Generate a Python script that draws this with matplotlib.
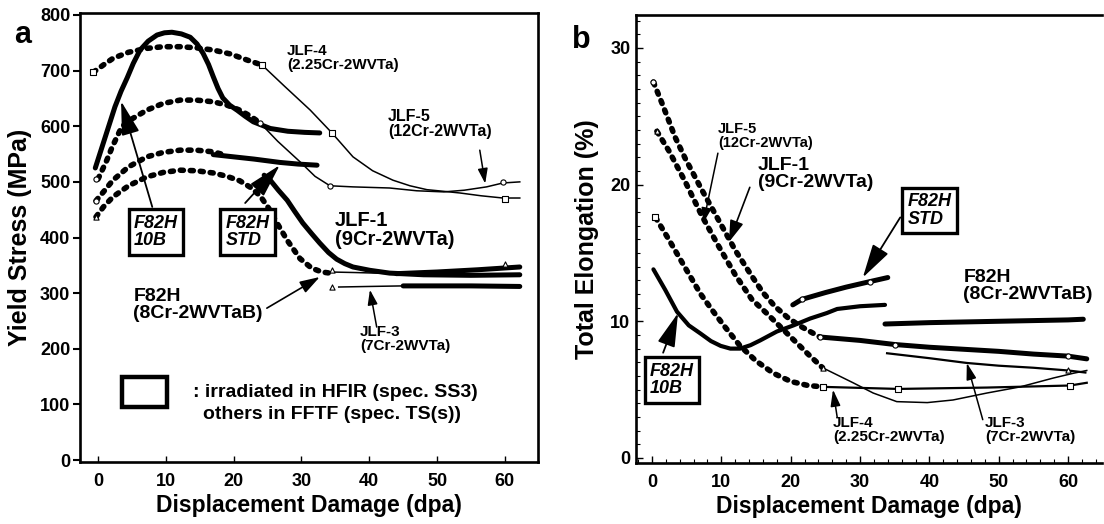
import numpy as np
import matplotlib
matplotlib.use('Agg')
import matplotlib.pyplot as plt
from matplotlib.patches import Rectangle
from matplotlib.ticker import MultipleLocator

plt.rcParams['font.family'] = ['Liberation Sans', 'DejaVu Sans']
plt.rcParams['font.weight'] = 'bold'

# ---------------- panel a : yield stress (MPa) ----------------
a_jlf4_dot_x = [-0.7, 1.0, 2.2, 4.5, 7.2, 9.6, 12.1, 14.5, 17.0, 19.5, 22.0, 24.2]
a_jlf4_dot_y = [697, 712, 722, 733, 740, 743, 743, 741, 737, 730, 719, 710]
a_jlf4_x = [24.2, 27.5, 31.3, 34.5, 37.6, 40.5, 43.5, 46.0, 48.5, 51.0, 53.4, 56.5, 59.7, 62.2]
a_jlf4_y = [710, 672, 629, 588, 545, 520, 503, 493, 486, 483, 480, 475, 471, 471]

a_jlf5_dot_x = [0.0, 1.3, 2.1, 2.8, 3.5, 4.7, 7.2, 9.6, 12.1, 14.5, 17.0, 19.0, 20.9, 22.5, 23.9]
a_jlf5_dot_y = [505, 539, 563, 581, 599, 611, 629, 641, 647, 647, 644, 638, 629, 618, 606]
a_jlf5_x = [23.9, 26.5, 29.8, 32.0, 34.2, 37.6, 43.0, 47.0, 51.0, 54.0, 57.3, 59.7, 62.2]
a_jlf5_y = [606, 573, 536, 510, 493, 491, 489, 484, 482, 485, 491, 498, 500]

a_dot3_x = [-0.3, 0.8, 2.2, 4.5, 7.2, 9.6, 12.1, 14.5, 17.0, 18.5]
a_dot3_y = [466, 482, 503, 527, 545, 553, 557, 557, 554, 549]

a_std_x = [17.0, 20.0, 23.0, 26.8, 29.5, 32.3]
a_std_y = [549, 545, 541, 535, 532, 530]

a_f82h_dot_x = [-0.3, 0.8, 2.2, 4.5, 7.2, 9.6, 12.1, 14.5, 17.0, 19.0, 20.9, 22.5,
                23.9, 25.2, 26.4, 27.9, 29.8, 31.5, 33.0, 34.2]
a_f82h_dot_y = [437, 455, 473, 493, 509, 517, 521, 520, 516, 510, 502, 490,
                475, 452, 426, 395, 362, 345, 338, 336]
a_f82h_x = [34.2, 38.0, 44.0, 50.0, 56.0, 62.2]
a_f82h_y = [338, 337, 335, 338, 342, 347]

a_jlf1_x = [24.5, 25.4, 26.6, 27.9, 29.0, 30.2, 31.5, 32.7, 34.0, 35.2, 36.4, 37.6, 40.1, 43.0, 48.0, 55.0, 62.2]
a_jlf1_y = [512, 503, 485, 467, 447, 426, 407, 390, 373, 361, 353, 347, 341, 336, 333, 332, 333]

a_jlf3_x = [35.5, 40.0, 45.0, 50.0, 55.0, 62.2]
a_jlf3_y = [311, 312, 313, 313, 313, 312]

a_10b_x = [-0.4, 2.5, 3.4, 4.3, 5.2, 6.2, 7.4, 8.7, 9.8, 10.9, 12.3, 13.6, 14.6, 15.5, 16.3,
           17.0, 17.7, 18.4, 19.4, 20.5, 21.7, 22.9, 25.4, 28.0, 30.5, 32.7]
a_10b_y = [525, 635, 663, 687, 713, 737, 753, 764, 768, 769, 766, 760, 748, 731, 711,
           689, 668, 651, 638, 629, 618, 608, 596, 591, 589, 588]

a_sq_x = [-0.7, 24.2, 34.5, 60.0]
a_sq_y = [697, 710, 588, 470]
a_circ_x = [-0.3, -0.3, 23.9, 34.2, 59.7]
a_circ_y = [505, 466, 606, 493, 500]
a_tri_x = [-0.3, 34.5, 34.5, 60.0]
a_tri_y = [437, 342, 311, 352]

# ---------------- panel b : total elongation (%) ----------------
b_jlf1_dot_x = [0.2, 1.4, 2.4, 3.3, 4.8, 7.2, 9.6, 12.0, 14.4, 16.0, 17.7, 19.5, 21.2, 24.2]
b_jlf1_dot_y = [27.5, 26.0, 24.7, 23.5, 21.9, 19.6, 17.4, 15.2, 13.3, 12.1, 11.1, 10.3, 9.7, 8.85]
b_jlf1_x = [24.2, 30.0, 35.0, 40.0, 45.0, 50.0, 55.0, 60.0, 62.7]
b_jlf1_y = [8.85, 8.6, 8.3, 8.1, 7.95, 7.8, 7.6, 7.45, 7.25]

b_jlf5_dot_x = [0.7, 2.4, 4.8, 7.2, 9.6, 12.0, 14.4, 16.5, 18.5, 20.5, 22.5, 24.6]
b_jlf5_dot_y = [23.9, 22.5, 20.2, 17.7, 15.5, 13.4, 11.6, 10.6, 9.6, 8.6, 7.6, 6.6]
b_jlf5_x = [24.6, 27.0, 29.0, 31.9, 35.3, 39.7, 43.4, 48.3, 53.1, 57.9, 60.8, 62.7]
b_jlf5_y = [6.6, 6.0, 5.5, 4.75, 4.12, 4.05, 4.24, 4.75, 5.2, 5.85, 6.2, 6.4]

b_jlf4_dot_x = [0.5, 2.4, 4.8, 7.0, 8.7, 10.5, 12.7, 15.0, 17.5, 20.0, 22.5, 24.7]
b_jlf4_dot_y = [17.6, 16.0, 13.9, 12.0, 10.8, 9.6, 8.2, 7.1, 6.2, 5.6, 5.3, 5.2]
b_jlf4_x = [24.7, 35.5, 48.3, 60.3, 62.7]
b_jlf4_y = [5.2, 5.05, 5.15, 5.3, 5.5]

b_10b_x = [0.2, 1.9, 3.6, 5.3, 7.0, 8.5, 9.9, 11.3, 12.7, 14.2, 15.6, 18.0, 20.4, 22.8, 25.2, 26.7, 30.0, 33.6]
b_10b_y = [13.8, 12.3, 10.7, 9.7, 9.1, 8.55, 8.2, 8.0, 8.0, 8.25, 8.6, 9.25, 9.7, 10.2, 10.6, 10.9, 11.1, 11.2]

b_std_x = [20.3, 21.6, 25.0, 28.0, 31.4, 34.0]
b_std_y = [11.2, 11.6, 12.1, 12.5, 12.9, 13.2]
b_f82h_x = [33.6, 40.0, 50.0, 60.0, 62.2]
b_f82h_y = [9.8, 9.9, 10.0, 10.1, 10.15]
b_jlf3_x = [33.9, 40.0, 45.4, 50.0, 55.0, 60.0, 62.5]
b_jlf3_y = [7.66, 7.3, 6.95, 6.75, 6.6, 6.4, 6.25]

b_sq_x = [0.5, 24.7, 35.5, 60.3]
b_sq_y = [17.6, 5.2, 5.05, 5.3]
b_circ_x = [0.2, 24.2, 35.0, 60.0, 21.6, 31.4]
b_circ_y = [27.5, 8.85, 8.3, 7.45, 11.6, 12.9]
b_tri_x = [0.7, 24.6, 60.0]
b_tri_y = [23.9, 6.6, 6.4]

x_ticks = [0, 10, 20, 30, 40, 50, 60]
a_y_ticks = [0, 100, 200, 300, 400, 500, 600, 700, 800]
b_y_ticks = [0, 10, 20, 30]

DOT = dict(color='k', lw=4.0, linestyle=(0, (0.55, 1.25)), dash_capstyle='round')
THICK = dict(color='k', lw=3.6, solid_capstyle='round')
THIN = dict(color='k', lw=1.1)
MK = dict(facecolor='white', edgecolor='k', s=14, linewidths=0.8, zorder=5)


def arrow(ax, tail, tip, scale=14, lw=1.2, hl=1.0, hw=0.35):
    ax.annotate('', xy=tip, xytext=tail,
                arrowprops=dict(arrowstyle=f'-|>,head_length={hl},head_width={hw}',
                                mutation_scale=scale, lw=lw, color='k',
                                shrinkA=0, shrinkB=0))


def label_box(ax, x, y, txt):
    ax.text(x, y, txt, ha='left', va='center', fontsize=13, style='italic',
            weight='bold', linespacing=1.05, zorder=6,
            bbox=dict(boxstyle='square,pad=0.3', fc='white', ec='k', lw=2.4))


fig = plt.figure(figsize=(11.04, 5.24), dpi=100)
fig.patch.set_facecolor('white')

# ======================= panel a =======================
ax = fig.add_axes([0.0725, 0.1183, 0.4149, 0.8569])
ax.plot(a_jlf4_dot_x, a_jlf4_dot_y, **DOT)
ax.plot(a_jlf4_x, a_jlf4_y, **THIN)
ax.plot(a_jlf5_dot_x, a_jlf5_dot_y, **DOT)
ax.plot(a_jlf5_x, a_jlf5_y, **THIN)
ax.plot(a_dot3_x, a_dot3_y, **DOT)
ax.plot(a_f82h_dot_x, a_f82h_dot_y, **DOT)
ax.plot(a_f82h_x, a_f82h_y, **THIN)
ax.plot(a_f82h_x[2:], a_f82h_y[2:], **THICK)
ax.plot(a_jlf3_x, a_jlf3_y, **THIN)
ax.plot(a_jlf3_x[2:], a_jlf3_y[2:], **THICK)
ax.plot(a_std_x, a_std_y, **THICK)
ax.plot(a_jlf1_x, a_jlf1_y, **THICK)
ax.plot(a_10b_x, a_10b_y, **THICK)
ax.scatter(a_sq_x, a_sq_y, marker='s', **MK)
ax.scatter(a_circ_x, a_circ_y, marker='o', **MK)
ax.scatter(a_tri_x, a_tri_y, marker='^', **MK)

ax.set_xlim(-2.65, 64.9)
ax.set_ylim(-3.6, 803.6)
ax.set_xticks(x_ticks)
ax.set_yticks(a_y_ticks)
ax.tick_params(axis='x', direction='in', length=4, width=1, labelsize=13, pad=8)
ax.tick_params(axis='y', direction='out', length=5, width=1.5, labelsize=13, pad=2)
for lab in ax.get_xticklabels() + ax.get_yticklabels():
    lab.set_fontweight('bold')
for sp in ax.spines.values():
    sp.set_linewidth(1.9)
ax.set_xlabel('Displacement Damage (dpa)', fontsize=16.5, weight='bold', labelpad=3)
ax.set_ylabel('Yield Stress (MPa)', fontsize=18, weight='bold', labelpad=6)

ax.text(27.9, 748, 'JLF-4\n(2.25Cr-2WVTa)', fontsize=11, weight='bold', va='top', linespacing=1.0)
ax.text(42.8, 631, 'JLF-5\n(12Cr-2WVTa)', fontsize=11.5, weight='bold', va='top', linespacing=1.0)
ax.text(34.9, 448, 'JLF-1\n(9Cr-2WVTa)', fontsize=14.5, weight='bold', va='top', linespacing=1.0)
ax.text(5.2, 310, 'F82H\n(8Cr-2WVTaB)', fontsize=14, weight='bold', va='top', linespacing=1.0)
ax.text(38.6, 243, 'JLF-3\n(7Cr-2WVTa)', fontsize=11, weight='bold', va='top', linespacing=1.0)
label_box(ax, 5.3, 410, 'F82H\n10B')
label_box(ax, 18.8, 410, 'F82H\nSTD')

arrow(ax, (8.0, 455), (3.4, 645), scale=14, lw=1.3, hl=1.5, hw=0.4)
arrow(ax, (21.7, 462), (26.8, 530), scale=14, lw=1.3, hl=1.5, hw=0.4)
arrow(ax, (56.3, 557), (57.1, 497), scale=10, lw=1.1, hl=0.9, hw=0.3)
arrow(ax, (24.9, 273), (32.7, 329), scale=11, lw=1.2, hl=1.1, hw=0.35)
arrow(ax, (41.1, 239), (40.1, 306), scale=10, lw=1.1, hl=0.9, hw=0.3)

ax.add_patch(Rectangle((0.0917, 0.1225), 0.098, 0.0665, transform=ax.transAxes,
                       fill=False, ec='k', lw=3.2))
ax.text(14.0, 122, ': irradiated in HFIR (spec. SS3)', fontsize=14, weight='bold', va='center')
ax.text(15.5, 81, 'others in FFTF (spec. TS(s))', fontsize=14, weight='bold', va='center')
fig.text(0.013, 0.918, 'a', fontsize=22, weight='bold')

# ======================= panel b =======================
bx = fig.add_axes([0.5761, 0.1164, 0.4221, 0.855])
bx.plot(b_jlf1_dot_x, b_jlf1_dot_y, **DOT)
bx.plot(b_jlf5_dot_x, b_jlf5_dot_y, **DOT)
bx.plot(b_jlf4_dot_x, b_jlf4_dot_y, **DOT)
bx.plot(b_jlf5_x, b_jlf5_y, **THIN)
bx.plot(b_jlf4_x, b_jlf4_y, color='k', lw=1.6)
bx.plot(b_jlf3_x, b_jlf3_y, color='k', lw=1.6)
bx.plot(b_jlf1_x, b_jlf1_y, **THICK)
bx.plot(b_f82h_x, b_f82h_y, **THICK)
bx.plot(b_std_x, b_std_y, **THICK)
bx.plot(b_10b_x, b_10b_y, color='k', lw=3.0, solid_capstyle='round')
bx.scatter(b_sq_x, b_sq_y, marker='s', **MK)
bx.scatter(b_circ_x, b_circ_y, marker='o', **MK)
bx.scatter(b_tri_x, b_tri_y, marker='^', **MK)

bx.set_xlim(-2.31, 64.9)
bx.set_ylim(-0.37, 32.41)
bx.set_xticks(x_ticks)
bx.set_yticks(b_y_ticks)
bx.xaxis.set_minor_locator(MultipleLocator(2))
bx.yaxis.set_minor_locator(MultipleLocator(1))
bx.tick_params(axis='both', which='major', direction='in', length=5, width=1, labelsize=13)
bx.tick_params(axis='both', which='minor', direction='in', length=3, width=0.8)
bx.tick_params(axis='x', pad=8)
bx.tick_params(axis='y', pad=4)
for lab in bx.get_xticklabels() + bx.get_yticklabels():
    lab.set_fontweight('bold')
for sp in bx.spines.values():
    sp.set_linewidth(1.9)
bx.spines['right'].set_visible(False)
bx.set_xlabel('Displacement Damage (dpa)', fontsize=16.5, weight='bold', labelpad=3)
bx.set_ylabel('Total Elongation (%)', fontsize=18, weight='bold', labelpad=8)

bx.text(9.5, 24.6, 'JLF-5\n(12Cr-2WVTa)', fontsize=10.5, weight='bold', va='top', linespacing=1.0)
bx.text(15.3, 22.0, 'JLF-1\n(9Cr-2WVTa)', fontsize=14, weight='bold', va='top', linespacing=1.0)
bx.text(44.9, 13.8, 'F82H\n(8Cr-2WVTaB)', fontsize=14, weight='bold', va='top', linespacing=1.0)
bx.text(26.1, 3.1, 'JLF-4\n(2.25Cr-2WVTa)', fontsize=11, weight='bold', va='top', linespacing=1.0)
bx.text(48.0, 3.1, 'JLF-3\n(7Cr-2WVTa)', fontsize=11, weight='bold', va='top', linespacing=1.0)
label_box(bx, 36.9, 18.1, 'F82H\nSTD')
label_box(bx, -0.3, 5.7, 'F82H\n10B')

arrow(bx, (9.5, 22.3), (7.4, 17.2), scale=10, lw=1.1, hl=0.9, hw=0.3)
arrow(bx, (14.1, 19.8), (11.1, 15.8), scale=12, lw=1.2, hl=1.1, hw=0.35)
arrow(bx, (35.8, 17.6), (30.4, 13.2), scale=14, lw=1.3, hl=1.5, hw=0.4)
arrow(bx, (1.6, 7.7), (3.75, 10.6), scale=14, lw=1.3, hl=1.5, hw=0.4)
arrow(bx, (26.7, 3.0), (26.1, 5.0), scale=10, lw=1.1, hl=1.0, hw=0.3)
arrow(bx, (47.7, 2.8), (45.4, 6.95), scale=10, lw=1.1, hl=1.0, hw=0.3)
fig.text(0.518, 0.908, 'b', fontsize=22, weight='bold')

fig.savefig('out.png', dpi=100, facecolor='white')
